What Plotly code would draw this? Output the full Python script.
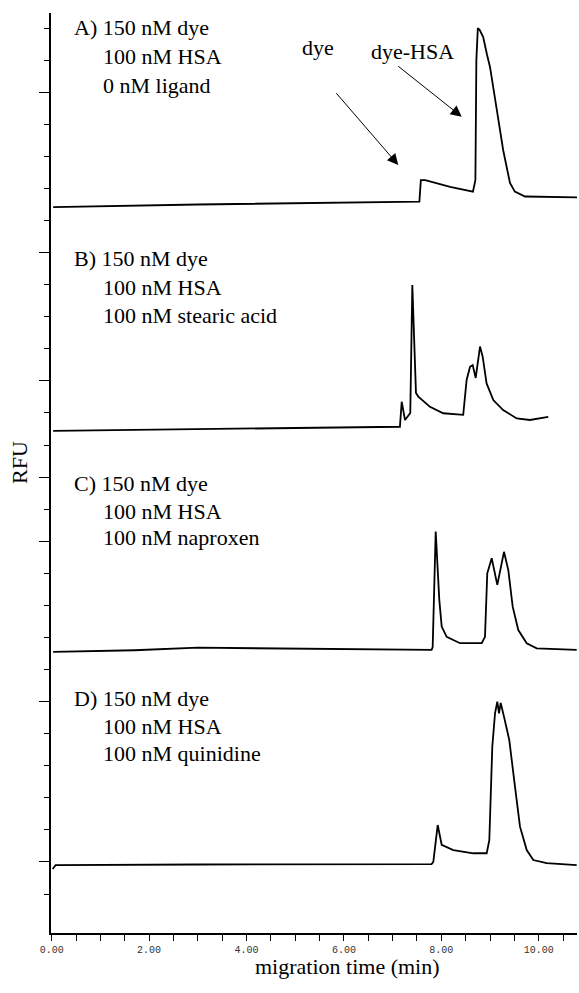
import plotly.graph_objects as go

# ---- data (migration time in min, RFU in axis tick units) ----
a_time = [0.03, 3.0, 7.55, 7.58, 7.67, 8.18, 8.65, 8.70, 8.72, 8.75, 8.79, 8.86, 8.94, 9.00, 9.14, 9.27, 9.41, 9.51, 9.72, 10.79]
a_rfu  = [21.42, 21.50, 21.59, 22.26, 22.26, 22.05, 21.90, 22.26, 26.0, 27.0, 26.94, 26.72, 26.16, 25.79, 24.45, 23.2, 22.17, 21.90, 21.75, 21.72]

b_time = [0.03, 3.5, 7.15, 7.187, 7.255, 7.363, 7.405, 7.48, 7.528, 7.768, 8.04, 8.45, 8.52, 8.59, 8.645, 8.706, 8.795, 8.85, 8.93, 9.068, 9.27, 9.548, 9.82, 10.197]
b_rfu  = [14.44, 14.50, 14.57, 15.35, 14.78, 15.0, 18.99, 15.62, 15.51, 15.19, 14.99, 14.94, 16.03, 16.44, 16.49, 16.09, 17.07, 16.75, 15.92, 15.40, 15.09, 14.83, 14.78, 14.88]

c_time = [0.03, 1.7, 3.0, 7.80, 7.823, 7.885, 7.959, 8.008, 8.111, 8.384, 8.83, 8.897, 8.944, 9.035, 9.15, 9.287, 9.376, 9.466, 9.581, 9.754, 9.959, 10.78]
c_rfu  = [7.55, 7.60, 7.68, 7.61, 7.7, 11.30, 9.17, 8.34, 8.02, 7.82, 7.82, 8.02, 10.0, 10.47, 9.64, 10.67, 10.1, 8.96, 8.23, 7.82, 7.66, 7.61]

d_time = [0.02, 0.08, 3.0, 7.80, 7.836, 7.926, 8.008, 8.246, 8.657, 8.932, 8.986, 9.047, 9.103, 9.150, 9.185, 9.22, 9.287, 9.396, 9.513, 9.616, 9.754, 9.889, 10.164, 10.78]
d_rfu  = [0.78, 0.90, 0.92, 0.93, 1.0, 2.15, 1.53, 1.37, 1.27, 1.27, 1.68, 4.59, 5.63, 6.0, 5.63, 5.96, 5.53, 4.80, 3.35, 2.10, 1.37, 1.06, 0.96, 0.90]

x_tickvals = [i * 0.5 for i in range(22)]
x_ticktext = ["0.00" if v == 0 else (f"{v:.2f}" if v % 2 == 0 else "") for v in x_tickvals]
y_major = [1, 6, 11, 13, 16, 20, 25]
y_minor = [v for v in range(28) if v not in y_major]

panel_text = [
    ["A) 150 nM dye", "100 nM HSA", "0 nM ligand"],
    ["B) 150 nM dye", "100 nM HSA", "100 nM stearic acid"],
    ["C) 150 nM dye", "100 nM HSA", "100 nM naproxen"],
    ["D) 150 nM dye", "100 nM HSA", "100 nM quinidine"],
]

# ---- layout geometry (pixels) ----
W, H = 579, 993
L, R, T, B = 51, 2, 13, 60
PW, PH = W - L - R, H - T - B


def px(x):
    return (x - L) / PW


def py(y):
    return (H - B - y) / PH


fig = go.Figure()
for t, r in [(a_time, a_rfu), (b_time, b_rfu), (c_time, c_rfu), (d_time, d_rfu)]:
    fig.add_trace(go.Scatter(x=t, y=r, mode="lines",
                             line=dict(color="black", width=1.8),
                             showlegend=False, hoverinfo="skip"))

serif = "Liberation Serif, Times New Roman, serif"
fs = 22
ann = []
panel_y = [[28, 56.7, 85], [258.3, 287.5, 315], [483, 511.7, 537], [698.3, 726.7, 753.3]]
for lines, ys in zip(panel_text, panel_y):
    for i, (txt, yy) in enumerate(zip(lines, ys)):
        ann.append(dict(text=txt, xref="paper", yref="paper",
                        x=px(71.7 if i == 0 else 100.5), y=py(yy),
                        xanchor="left", yanchor="middle", showarrow=False,
                        font=dict(family=serif, size=fs, color="black")))

ann.append(dict(text="dye", xref="paper", yref="paper", x=px(318), y=py(48),
                xanchor="center", yanchor="middle", showarrow=False,
                font=dict(family=serif, size=fs, color="black")))
ann.append(dict(text="dye-HSA", xref="paper", yref="paper", x=px(412.5), y=py(51.7),
                xanchor="center", yanchor="middle", showarrow=False,
                font=dict(family=serif, size=fs, color="black")))
# arrows
for head, tail in [((398.3, 165), (335, 91.7)), ((461.7, 116.7), (396.7, 65))]:
    ann.append(dict(text="", xref="paper", yref="paper", x=px(head[0]), y=py(head[1]),
                    ax=tail[0] - head[0], ay=tail[1] - head[1], axref="pixel", ayref="pixel",
                    showarrow=True, arrowhead=2, arrowsize=2.2, arrowwidth=1,
                    arrowcolor="black", standoff=0))

ann.append(dict(text="RFU", xref="paper", yref="paper", x=px(20), y=py(463),
                xanchor="center", yanchor="middle", textangle=-90, showarrow=False,
                font=dict(family=serif, size=fs, color="black")))
ann.append(dict(text="migration time (min)", xref="paper", yref="paper", x=px(347.5), y=py(967),
                xanchor="center", yanchor="middle", showarrow=False,
                font=dict(family=serif, size=fs, color="black")))

fig.update_layout(
    width=W, height=H,
    margin=dict(l=L, r=R, t=T, b=B, pad=0),
    paper_bgcolor="white", plot_bgcolor="white",
    annotations=ann,
    xaxis=dict(range=[(L - 51.7) / 48.7, (W - R - 51.7) / 48.7],
               tickmode="array", tickvals=x_tickvals, ticktext=x_ticktext,
               ticks="outside", ticklen=6, tickwidth=1.3, tickcolor="black",
               showline=True, linecolor="black", linewidth=1.5,
               showgrid=False, zeroline=False,
               tickfont=dict(family="Liberation Mono, DejaVu Sans Mono, monospace", size=10, color="#333")),
    yaxis=dict(range=[-39 / 32.07, (894 - 13) / 32.07],
               tickmode="array", tickvals=y_major, ticktext=["" for _ in y_major],
               ticks="outside", ticklen=10, tickwidth=1.3, tickcolor="black",
               minor=dict(tickmode="array", tickvals=y_minor, ticks="outside",
                          ticklen=5, tickwidth=1.3, tickcolor="black", showgrid=False),
               showline=True, linecolor="black", linewidth=1.5,
               showgrid=False, zeroline=False, showticklabels=False),
)

fig.write_html("out.html")
